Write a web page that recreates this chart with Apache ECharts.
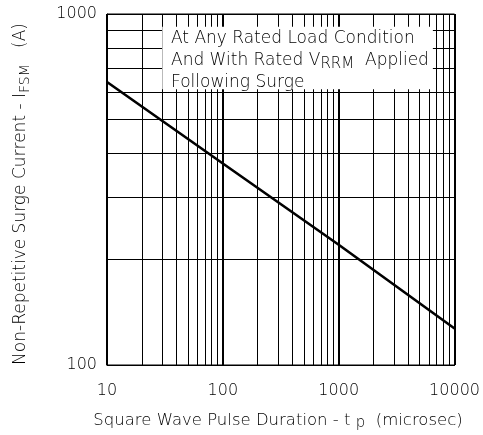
<!DOCTYPE html>
<html>
<head>
<meta charset="utf-8">
<script src="https://cdn.jsdelivr.net/npm/echarts@6/dist/echarts.min.js"></script>
<style>
  html, body { margin: 0; padding: 0; background: #fff; }
  #chart { width: 483px; height: 435px; }
</style>
</head>
<body>
<div id="chart"></div>
<script>
// pulse duration (microsec) vs surge current (A)
var durations = [10, 100, 1000, 10000];
var surgeCurrent = [640, 375, 220, 127];

// minor grid lines of the log-log paper
var xMinorGrid = [20, 30, 40, 50, 60, 70, 80, 90,
                  200, 300, 400, 500, 600, 700, 800, 900,
                  2000, 3000, 4000, 5000, 6000, 7000, 8000, 9000];
var yMinorGrid = [200, 300, 400, 500, 600, 700, 800, 900];

// white note box, in data units
var noteBox = [[30, 920], [6500, 610]];

var font = 'DejaVu Sans';
var weight = 200;

var chart = echarts.init(document.getElementById('chart'));

var curve = [];
for (var i = 0; i < durations.length; i++) curve.push([durations[i], surgeCurrent[i]]);

var gridLines = [];
xMinorGrid.forEach(function (v) { gridLines.push({ xAxis: v }); });
yMinorGrid.forEach(function (v) { gridLines.push({ yAxis: v }); });

// subscript: small line height pushed to the bottom of the line
function sub(size) {
    return { fontSize: size, fontFamily: font, fontWeight: weight, lineHeight: 8,
             verticalAlign: 'bottom', padding: [7, 0, 0, 0] };
}

var option = {
    animation: false,
    backgroundColor: '#fff',
    grid: {
        left: 107, right: 25, top: 14, bottom: 70,
        show: true, borderColor: '#000', borderWidth: 1
    },
    xAxis: {
        type: 'log', logBase: 10, min: 10, max: 10000,
        axisLine: { show: true, lineStyle: { color: '#000', width: 1 } },
        axisTick: { show: false },
        axisLabel: {
            color: '#000', fontFamily: font, fontWeight: weight, fontSize: 16, margin: 18,
            formatter: function (v) { return String(Math.round(v)); }
        },
        splitLine: { show: true, lineStyle: { color: '#000', width: 2 } }
    },
    yAxis: {
        type: 'log', logBase: 10, min: 100, max: 1000,
        axisLine: { show: true, lineStyle: { color: '#000', width: 1 } },
        axisTick: { show: false },
        axisLabel: {
            color: '#000', fontFamily: font, fontWeight: weight, fontSize: 16, margin: 10,
            formatter: function (v) { return String(Math.round(v)); }
        },
        splitLine: { show: true, lineStyle: { color: '#000', width: 1 } }
    },
    series: [
        {
            type: 'line', data: [], z: 1, silent: true,
            markLine: {
                z: 1, silent: true, symbol: 'none', animation: false,
                label: { show: false },
                lineStyle: { color: '#000', width: 1, type: 'solid' },
                data: gridLines
            }
        },
        {
            type: 'line', data: [], z: 2, silent: true,
            markArea: {
                z: 2, silent: true,
                itemStyle: { color: '#fff', opacity: 1 },
                data: [[{ coord: noteBox[0] }, { coord: noteBox[1] }]]
            }
        },
        {
            type: 'line', z: 3, data: curve,
            symbol: 'none', silent: true,
            lineStyle: { color: '#000', width: 2.6 }
        }
    ],
    graphic: [
        {
            type: 'text', left: 171, top: 28, z: 100,
            style: {
                text: 'At Any Rated Load Condition\nAnd With Rated V{s|RRM}  Applied\nFollowing Surge',
                fill: '#000', fontFamily: font, fontWeight: weight, fontSize: 17, lineHeight: 22,
                rich: { s: sub(15) }
            }
        },
        {
            type: 'text', x: 278, y: 421, z: 100,
            style: {
                text: 'Square Wave Pulse Duration - t {s|p}  (microsec)',
                fill: '#000', fontFamily: font, fontWeight: weight, fontSize: 16.5, lineHeight: 20,
                align: 'center', verticalAlign: 'middle',
                rich: { s: sub(15) }
            }
        },
        {
            type: 'text', x: 21, y: 194, rotation: Math.PI / 2, z: 100,
            style: {
                text: 'Non-Repetitive Surge Current - I{s|FSM}   (A)',
                fill: '#000', fontFamily: font, fontWeight: weight, fontSize: 17, lineHeight: 22,
                align: 'center', verticalAlign: 'middle',
                rich: { s: sub(14) }
            }
        }
    ]
};

chart.setOption(option);
window.onresize = chart.resize;
</script>
</body>
</html>
